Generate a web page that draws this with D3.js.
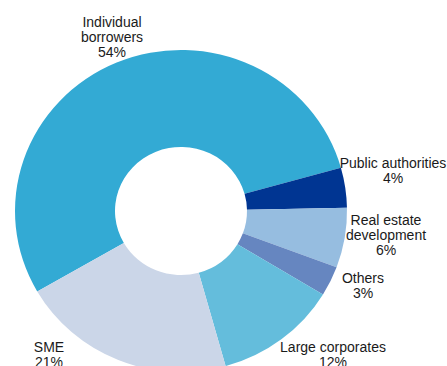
<!DOCTYPE html>
<html>
<head>
<meta charset="utf-8">
<script src="https://cdn.jsdelivr.net/npm/d3@7"></script>
<style>
  html, body { margin: 0; padding: 0; background: #fff; }
  svg { display: block; }
  text { font-family: "Liberation Sans", Arial, sans-serif; font-size: 14px; fill: #1a1a1a; }
</style>
</head>
<body>
<svg id="chart" width="447" height="366"></svg>
<script>
// Loan portfolio breakdown by borrower type (share, %)
const categories = ["Individual borrowers", "Public authorities", "Real estate development", "Others", "Large corporates", "SME"];
const shares = [54, 4, 6, 3, 12, 21];
const colors = ["#33aad4", "#003592", "#96bde0", "#6686c0", "#64bddc", "#cbd6e8"];

// Label lines for each slice (name split over lines, then the share)
const labelLines = [
  ["Individual", "borrowers"],
  ["Public authorities"],
  ["Real estate", "development"],
  ["Others"],
  ["Large corporates"],
  ["SME"]
];

// Label anchor (centre x, first baseline y) for each slice
const labelAnchors = [
  [112, 27], [393, 168], [386, 225], [363, 283], [333, 352], [49, 352]
];

const svg = d3.select("#chart");
const cx = 181, cy = 211;
const outerR = 166, innerR = 66, yScale = 0.97;

const pie = d3.pie()
  .value(d => d)
  .sort(null)
  .startAngle(-120 * Math.PI / 180)
  .endAngle(240 * Math.PI / 180);

const arc = d3.arc().innerRadius(innerR).outerRadius(outerR);

const g = svg.append("g")
  .attr("transform", `translate(${cx},${cy}) scale(1,${yScale})`);

g.selectAll("path")
  .data(pie(shares))
  .join("path")
  .attr("d", arc)
  .attr("fill", (d, i) => colors[i]);

const lineH = 15;
const labels = svg.append("g");
categories.forEach((c, i) => {
  const [x, y] = labelAnchors[i];
  const lines = labelLines[i].concat([shares[i] + "%"]);
  const t = labels.append("text").attr("text-anchor", "middle");
  lines.forEach((s, j) => {
    t.append("tspan").attr("x", x).attr("y", y + j * lineH).text(s);
  });
});
</script>
</body>
</html>
